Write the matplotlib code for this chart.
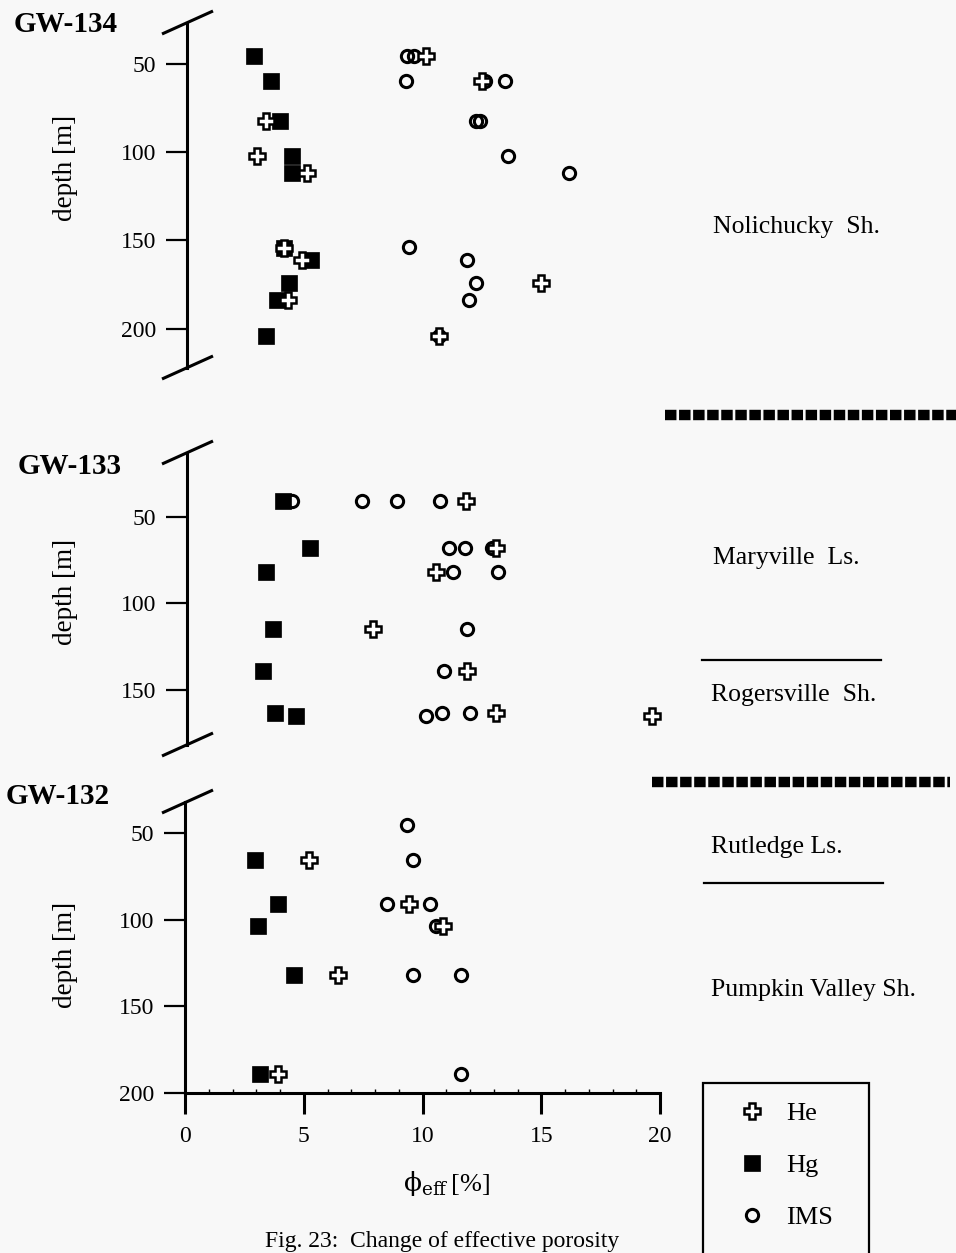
import matplotlib
matplotlib.use("Agg")
import matplotlib.pyplot as plt
from matplotlib.lines import Line2D
from matplotlib.patches import Rectangle

plt.rcParams["font.family"] = ["Liberation Serif", "DejaVu Serif"]
plt.rcParams["mathtext.fontset"] = "custom"
plt.rcParams["mathtext.rm"] = "DejaVu Serif"
plt.rcParams["mathtext.it"] = "DejaVu Serif:italic"

# porosity [%] and depth [m] per well and method
gw134_he_phi = [10.06, 12.43, 3.32, 2.94, 5.05, 4.08, 4.84, 14.91, 4.24, 10.62]
gw134_he_depth = [45.7, 59.4, 82.5, 102.0, 111.8, 154.3, 160.9, 174.1, 183.6, 204.0]
gw134_hg_phi = [2.83, 3.54, 3.91, 4.43, 4.43, 4.08, 5.21, 4.29, 3.80, 3.32]
gw134_hg_depth = [45.7, 59.4, 82.5, 102.3, 111.7, 154.3, 160.9, 174.1, 183.6, 204.0]
gw134_ims_phi = [9.25, 9.57, 9.20, 12.56, 13.37, 12.17, 12.33, 13.50, 16.09, 9.33,
                 11.79, 12.16, 11.88, 10.62]
gw134_ims_depth = [45.7, 45.7, 59.4, 59.4, 59.4, 82.5, 82.5, 102.0, 111.8, 153.9,
                   160.9, 174.1, 183.6, 204.0]

gw133_he_phi = [11.75, 13.0, 10.47, 7.83, 11.8, 13.0, 19.57]
gw133_he_depth = [40.9, 67.6, 81.5, 114.5, 138.8, 163.5, 165.4]
gw133_hg_phi = [4.06, 5.19, 3.34, 3.60, 3.20, 3.70, 4.60]
gw133_hg_depth = [40.9, 67.6, 81.5, 114.5, 138.8, 163.5, 165.4]
gw133_ims_phi = [4.40, 7.36, 8.83, 10.66, 11.04, 11.70, 12.83, 11.19, 13.08, 11.8,
                 10.8, 10.06, 10.75, 11.9]
gw133_ims_depth = [40.9, 40.9, 40.9, 40.9, 67.6, 67.6, 67.6, 81.5, 81.5, 114.5,
                   138.8, 165.4, 163.5, 163.5]

gw132_he_phi = [5.23, 9.45, 10.85, 6.45, 3.90]
gw132_he_depth = [65.4, 91.2, 103.7, 131.9, 189.0]
gw132_hg_phi = [2.96, 3.90, 3.08, 4.58, 3.15]
gw132_hg_depth = [65.4, 91.2, 103.7, 131.9, 189.0]
gw132_ims_phi = [9.34, 9.58, 8.50, 10.30, 10.57, 9.60, 11.60, 11.60]
gw132_ims_depth = [45.6, 65.4, 91.2, 91.2, 103.7, 131.9, 131.9, 189.0]

wells = ["GW-134", "GW-133", "GW-132"]
depth_ticks = [[50, 100, 150, 200], [50, 100, 150], [50, 100, 150, 200]]
phi_ticks = [0, 5, 10, 15, 20]
formations = ["Nolichucky  Sh.", "Maryville  Ls.", "Rogersville  Sh.",
              "Rutledge Ls.", "Pumpkin Valley Sh."]
methods = ["He", "Hg", "IMS"]

W, H = 956, 1253
BG = "#f8f8f8"
fig = plt.figure(figsize=(W / 100, H / 100), dpi=100, facecolor=BG)


def fx(x):
    return x / W


def fy(y):
    return 1 - y / H


def add_axes_px(x0, x1, ytop, ybot):
    return fig.add_axes([fx(x0), fy(ybot), fx(x1) - fx(x0), fy(ytop) - fy(ybot)])


he_style = dict(marker="P", ms=11.5, mfc="white", mec="black", mew=1.8, ls="none", zorder=4)
hg_style = dict(marker="s", ms=12, mfc="black", mec="black", mew=0.5, ls="none", zorder=3)
ims_style = dict(marker="o", ms=8.8, mfc="none", mec="black", mew=2.2, ls="none", zorder=2)

# one panel per well: (left px, spine top/bottom px, depth limits)
panels = [
    (187, 23, 368, (222.3, 26.8)),
    (187, 453, 745, (181.9, 12.9)),
    (185, 802, 1093, (200.0, 32.1)),
]
data = [
    (gw134_he_phi, gw134_he_depth, gw134_hg_phi, gw134_hg_depth, gw134_ims_phi, gw134_ims_depth),
    (gw133_he_phi, gw133_he_depth, gw133_hg_phi, gw133_hg_depth, gw133_ims_phi, gw133_ims_depth),
    (gw132_he_phi, gw132_he_depth, gw132_hg_phi, gw132_hg_depth, gw132_ims_phi, gw132_ims_depth),
]

axes = []
for i, ((x0, ytop, ybot, ylim), d) in enumerate(zip(panels, data)):
    ax = add_axes_px(x0, x0 + 475, ytop, ybot)
    ax.set_facecolor("none")
    he_x, he_y, hg_x, hg_y, ims_x, ims_y = d
    ax.plot(ims_x, ims_y, **ims_style)
    ax.plot(hg_x, hg_y, **hg_style)
    ax.plot(he_x, he_y, **he_style)
    ax.set_xlim(0, 20)
    ax.set_ylim(*ylim)
    for s in ["top", "right"]:
        ax.spines[s].set_visible(False)
    ax.spines["left"].set_linewidth(2.2)
    ax.set_yticks(depth_ticks[i])
    ax.tick_params(axis="y", length=15, width=1.6, pad=7, labelsize=17)
    if i < 2:
        ax.spines["bottom"].set_visible(False)
        ax.set_xticks([])
    else:
        ax.spines["bottom"].set_linewidth(2.2)
        ax.set_xticks(phi_ticks)
        ax.set_xticks(range(0, 21), minor=True)
        ax.tick_params(axis="x", which="major", length=15, width=2.2, pad=9, labelsize=17)
        ax.tick_params(axis="x", which="minor", length=3, width=1.0, direction="in")
    axes.append(ax)


def axis_break(y):
    x = 187
    fig.add_artist(Line2D([fx(x - 25), fx(x + 26)], [fy(y + 11), fy(y - 12)],
                          color="black", lw=2.2, solid_capstyle="butt"))


for y in [23, 368, 453, 745, 802]:
    axis_break(y)

# well names and depth labels
well_pos = [(14, 24), (18, 467), (6, 797)]
for name, (x, y) in zip(wells, well_pos):
    fig.text(fx(x), fy(y), name, fontsize=21, fontweight="bold", ha="left", va="center")

for y in [168, 592, 955]:
    fig.text(fx(66), fy(y), "depth [m]", fontsize=19.5, rotation=90, ha="center", va="center")

fig.text(fx(447), fy(1183), r"$\mathrm{\phi}_{\mathrm{eff}}\,$[%]", fontsize=19,
         ha="center", va="center")

# formation names and boundaries
form_pos = [(713, 227), (713, 558), (711, 695), (711, 847), (711, 990)]
for name, (x, y) in zip(formations, form_pos):
    fig.text(fx(x), fy(y), name, fontsize=18.5, ha="left", va="center")

for x0, x1, y in [(665, 956, 415), (652, 950, 782)]:
    fig.add_artist(Line2D([fx(x0), fx(x1)], [fy(y), fy(y)], color="black", lw=7.5,
                          dashes=(1.1, 0.25), solid_capstyle="butt", dash_capstyle="butt"))
for x0, x1, y in [(702, 881, 660), (704, 883, 883)]:
    fig.add_artist(Line2D([fx(x0), fx(x1)], [fy(y), fy(y)], color="black", lw=1.6))

# legend box
fig.add_artist(Rectangle((fx(703), fy(1270)), fx(869) - fx(703), fy(1083) - fy(1270),
                         fill=False, ec="black", lw=1.6))
styles = [he_style, hg_style, ims_style]
for k, (name, st) in enumerate(zip(methods, styles)):
    y = 1111 + 52 * k
    st = dict(st)
    st.pop("ls")
    st.pop("zorder")
    fig.add_artist(Line2D([fx(752)], [fy(y)], ls="none", **st))
    fig.text(fx(786), fy(y + 3), name, fontsize=19, ha="left", va="center")

fig.text(fx(265), fy(1252), "Fig. 23:  Change of effective porosity", fontsize=17,
         ha="left", va="bottom")

fig.savefig("out.png", dpi=100, facecolor=BG)
